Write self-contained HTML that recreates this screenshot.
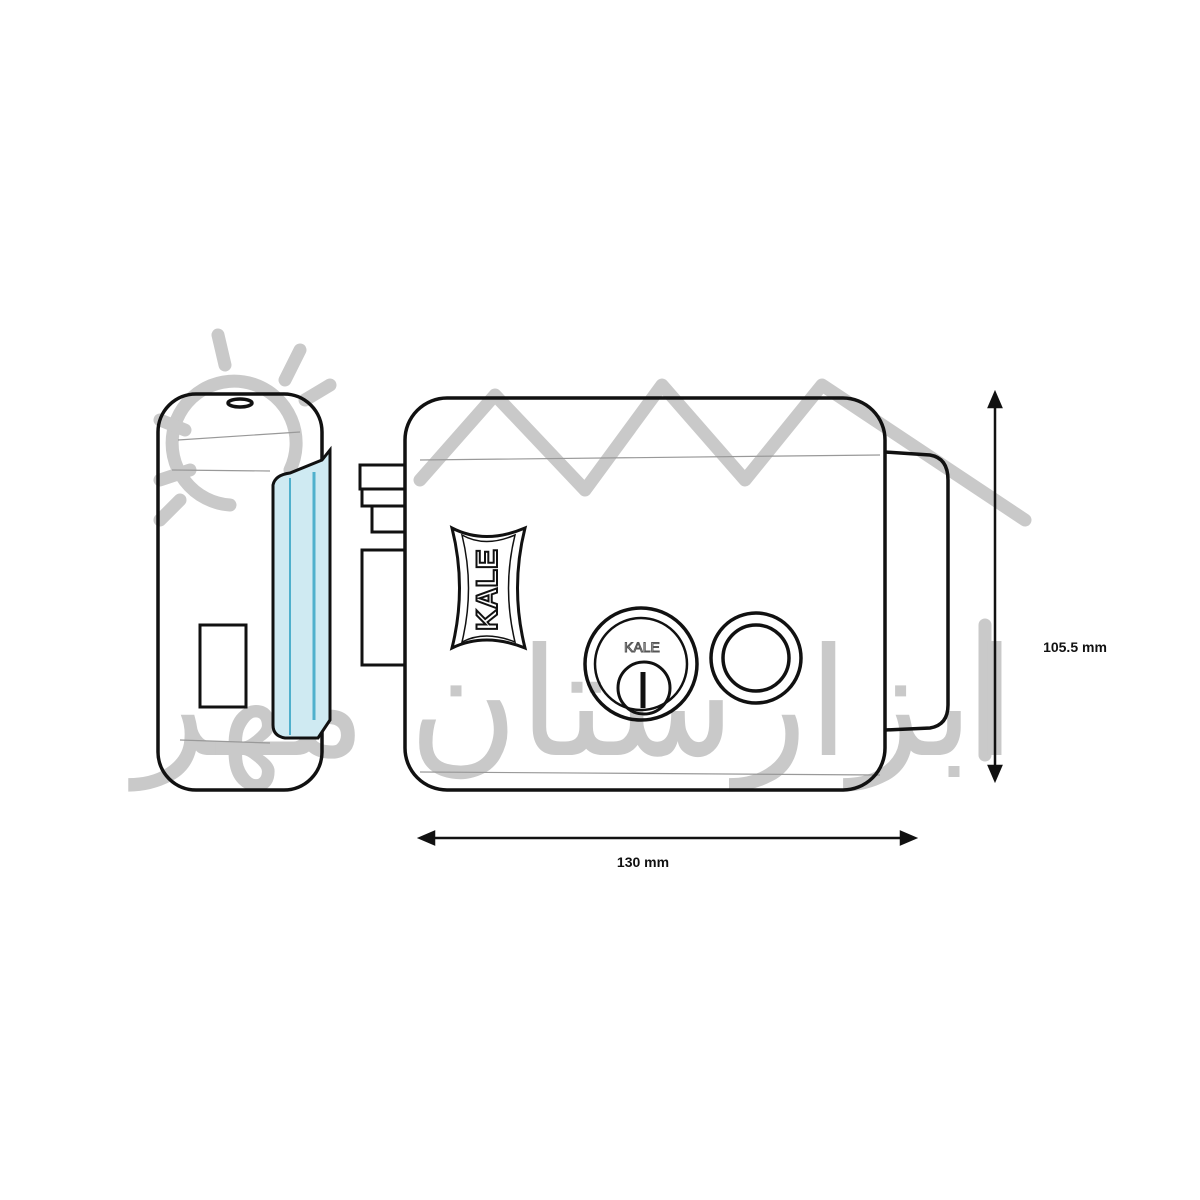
<!DOCTYPE html>
<html><head><meta charset="utf-8"><style>html,body{margin:0;padding:0;background:#fff}svg{display:block}</style></head>
<body>
<svg width="1200" height="1200" viewBox="0 0 1200 1200" xmlns="http://www.w3.org/2000/svg">
<rect width="1200" height="1200" fill="#fff"/>
<!-- watermark -->
<g stroke="#c9c9c9" stroke-width="13" fill="none" stroke-linecap="round" stroke-linejoin="round">
<path d="M230,505 A62,62 0 1 1 290,470"/>
<path d="M218,335 L225,365 M300,350 L285,380 M330,385 L305,400 M160,420 L185,430 M160,480 L190,470 M160,520 L180,500"/>
<path d="M420,480 L495,395 L585,490 L662,385 L745,480 L822,385 L1025,520"/>
<path d="M985,625 L985,755"/>
</g>
<text x="575" y="755" font-family="'Liberation Sans','DejaVu Sans',sans-serif" font-size="150" fill="#c9c9c9" text-anchor="middle" direction="rtl">ابزارستان مهر</text>
<!-- side view -->
<g stroke="#111" fill="none" stroke-width="3.5">
<rect x="158" y="394" width="164" height="396" rx="38"/>
<ellipse cx="240" cy="403" rx="12" ry="4"/>
<rect x="200" y="625" width="46" height="82" stroke-width="3"/>
<rect x="360" y="465" width="45" height="24" stroke-width="3"/>
<rect x="362" y="489" width="43" height="17" stroke-width="3"/>
<rect x="372" y="506" width="33" height="26" stroke-width="3"/>
<rect x="362" y="550" width="43" height="115" stroke-width="3"/>
</g>
<g stroke="#999" stroke-width="1.2" fill="none">
<path d="M172,470 L270,471 M180,740 L270,743 M178,440 L300,432 M420,460 L880,455 M420,772 L880,775"/>
</g>
<path d="M273,485 Q275,475 290,473 L322,460 L330,450 L330,720 L318,738 L285,738 Q273,736 273,725 Z" fill="#cfeaf2" stroke="#111" stroke-width="3"/>
<path d="M290,478 L290,735" stroke="#4fb0cc" stroke-width="2"/>
<path d="M314,472 L314,720" stroke="#4fb0cc" stroke-width="3"/>
<!-- front view -->
<g stroke="#111" fill="none" stroke-width="3.5">
<path d="M885,452 L930,455 Q948,458 948,480 L948,705 Q948,725 930,728 L885,730"/>
<rect x="405" y="398" width="480" height="392" rx="42"/>
<path d="M452,528 Q485,545 525,528 Q510,588 525,648 Q485,632 452,648 Q467,588 452,528 Z" stroke-width="3"/>
<path d="M462,535 Q485,548 515,535 Q502,588 515,642 Q485,630 462,642 Q475,588 462,535 Z" stroke-width="1.5"/>
<circle cx="641" cy="664" r="56"/>
<circle cx="641" cy="664" r="46" stroke-width="2.5"/>
<circle cx="644" cy="688" r="26" stroke-width="3"/>
<circle cx="756" cy="658" r="45"/>
<circle cx="756" cy="658" r="33"/>
</g>
<text transform="translate(497,590) rotate(-90)" font-family="'Liberation Sans',sans-serif" font-weight="bold" font-size="30" text-anchor="middle" fill="#fff" stroke="#111" stroke-width="2">KALE</text>
<text x="642" y="652" font-family="'Liberation Sans',sans-serif" font-size="14" text-anchor="middle" fill="#fff" stroke="#555" stroke-width="1">KALE</text>
<path d="M643,672 L643,708" stroke="#111" stroke-width="5"/>
<!-- dimensions -->
<g stroke="#111" stroke-width="2.5" fill="#111">
<line x1="995" y1="402" x2="995" y2="772"/>
<path d="M995,393 L989,407 L1001,407 Z"/>
<path d="M995,780 L989,766 L1001,766 Z"/>
<line x1="428" y1="838" x2="907" y2="838"/>
<path d="M420,838 L434,832 L434,844 Z"/>
<path d="M915,838 L901,832 L901,844 Z"/>
</g>
<text x="1075" y="652" font-family="'Liberation Sans',sans-serif" font-weight="bold" font-size="14" text-anchor="middle" fill="#111">105.5 mm</text>
<text x="643" y="867" font-family="'Liberation Sans',sans-serif" font-weight="bold" font-size="14" text-anchor="middle" fill="#111">130 mm</text>
</svg>
</body></html>
